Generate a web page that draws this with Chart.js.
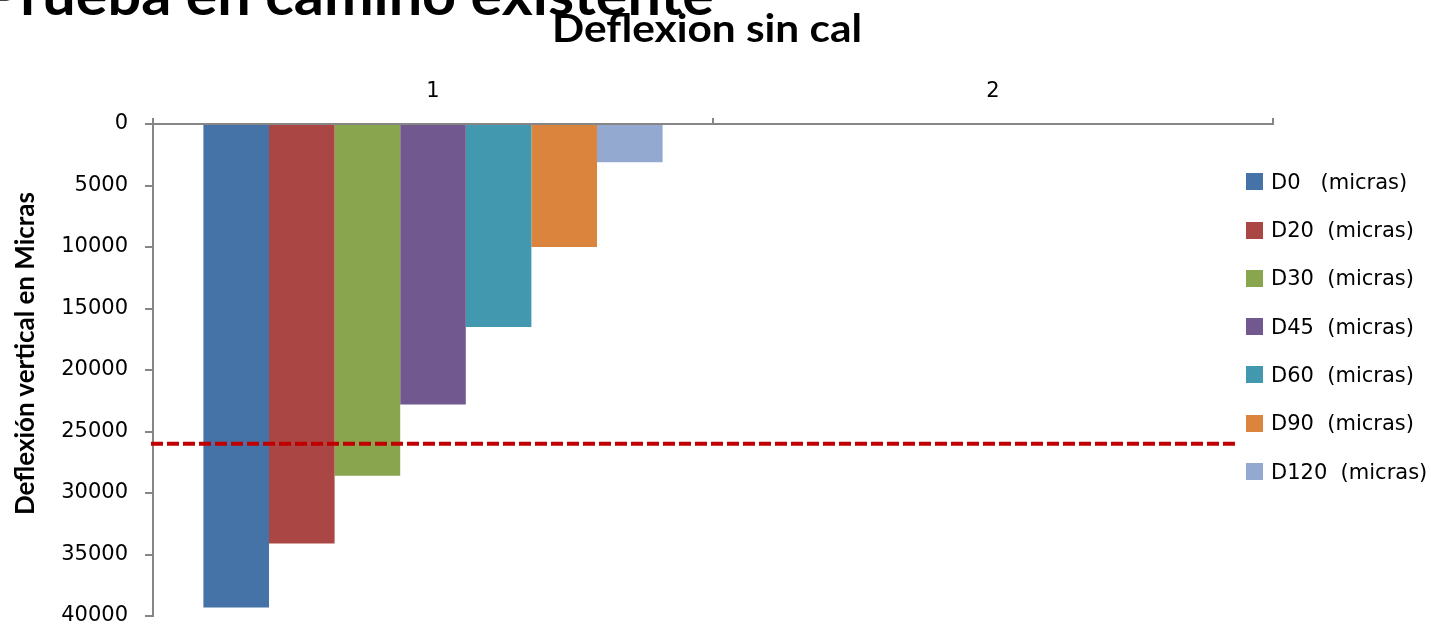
<!DOCTYPE html>
<html>
<head>
<meta charset="utf-8">
<script src="https://cdn.jsdelivr.net/npm/chart.js@4/dist/chart.umd.min.js"></script>
<style>
  html, body { margin: 0; padding: 0; background: #fff; overflow: hidden; }
  #wrap { position: relative; width: 1431px; height: 630px; overflow: hidden; background: #fff; }
  #c { position: absolute; left: 0; top: 0; }
  .ttl { position: absolute; left: 0; top: 0; white-space: pre; font-family: Lato, "Open Sans", sans-serif;
         font-weight: 700; color: #000; line-height: 1; transform-origin: 0 0; }
  .bl { display: inline-block; width: 0; height: 0; vertical-align: baseline; }
  .lg { position: absolute; left: 1246px; height: 24px; display: flex; align-items: center;
        font-family: "DejaVu Sans", sans-serif; font-size: 21px; color: #000; white-space: pre; }
  .lg i { display: inline-block; width: 17px; height: 17px; margin-right: 8px; }
</style>
</head>
<body>
<div id="wrap">
  <canvas id="c" width="1431" height="630"></canvas>
  <div id="t1" class="ttl" style="font-size:56px">Prueba en camino existente<span class="bl"></span></div>
  <div id="t2" class="ttl" style="font-size:39px">Deflexion sin cal<span class="bl"></span></div>
  <div id="t3" class="ttl" style="font-size:26px">Deflexión vertical en Micras<span class="bl"></span></div>
  <div id="legend"></div>
</div>
<script>
// ---- data ----
const categories = ['1', '2'];
const seriesNames = ['D0   (micras)', 'D20  (micras)', 'D30  (micras)', 'D45  (micras)', 'D60  (micras)', 'D90  (micras)', 'D120  (micras)'];
const D0   = [39300, null];
const D20  = [34100, null];
const D30  = [28600, null];
const D45  = [22800, null];
const D60  = [16500, null];
const D90  = [10000, null];
const D120 = [3100, null];
const seriesValues = [D0, D20, D30, D45, D60, D90, D120];
const yMin = 0, yMax = 40000, yStep = 5000;
const threshold = 26000;

// ---- styles ----
const seriesColors = ['#4572A7', '#AA4643', '#89A54E', '#71588F', '#4198AF', '#DB843D', '#93A9CF'];
const axisColor = '#868686';
const tickFont = { family: 'DejaVu Sans', size: 21 };

const datasets = seriesNames.map((name, i) => ({
  label: name,
  data: seriesValues[i],
  backgroundColor: seriesColors[i],
  borderWidth: 0,
  categoryPercentage: 0.82,
  barPercentage: 1.0
}));

const thresholdLine = {
  id: 'thresholdLine',
  afterDatasetsDraw(chart) {
    const { ctx, chartArea: a, scales: { y } } = chart;
    const py = y.getPixelForValue(threshold);
    ctx.save();
    ctx.strokeStyle = '#C00000';
    ctx.lineWidth = 4;
    ctx.setLineDash([12, 4]);
    ctx.beginPath();
    ctx.moveTo(a.left - 2, py);
    ctx.lineTo(a.right - 35, py);
    ctx.stroke();
    ctx.restore();
  }
};

function noPad(s) { s.paddingTop = 0; s.paddingBottom = 0; s.paddingLeft = 0; s.paddingRight = 0; }

new Chart(document.getElementById('c'), {
  type: 'bar',
  data: { labels: categories, datasets },
  options: {
    responsive: false,
    animation: false,
    devicePixelRatio: 1,
    layout: { padding: { left: 0, top: 0, right: 158, bottom: 14 } },
    plugins: { legend: { display: false }, tooltip: { enabled: false }, title: { display: false } },
    scales: {
      x: {
        type: 'category',
        position: 'top',
        offset: true,
        z: 1,
        grid: { display: true, offset: true, drawOnChartArea: false, drawTicks: true, tickLength: 6, color: axisColor, lineWidth: 2 },
        border: { display: true, color: axisColor, width: 2 },
        ticks: { font: tickFont, color: '#000', padding: 14, maxRotation: 0 },
        afterFit: s => { s.height = 124; noPad(s); }
      },
      y: {
        reverse: true,
        min: yMin,
        max: yMax,
        z: 1,
        grid: { display: true, drawOnChartArea: false, drawTicks: true, tickLength: 8, color: axisColor, lineWidth: 2 },
        border: { display: true, color: axisColor, width: 2 },
        ticks: { stepSize: yStep, font: tickFont, color: '#000', padding: 17, callback: v => String(v) },
        afterFit: s => { s.width = 153; noPad(s); }
      }
    }
  },
  plugins: [thresholdLine]
});

// ---- legend ----
const lg = document.getElementById('legend');
seriesNames.forEach((name, i) => {
  const row = document.createElement('div');
  row.className = 'lg';
  row.style.top = (181.7 + 48.3 * i - 12) + 'px';
  const sw = document.createElement('i');
  sw.style.background = seriesColors[i];
  row.appendChild(sw);
  row.appendChild(document.createTextNode(name));
  lg.appendChild(row);
});

// ---- titles ----
function measure(el) {
  el.style.transform = 'none';
  const r = el.getBoundingClientRect();
  const m = el.querySelector('.bl').getBoundingClientRect();
  return { w: r.width, base: m.bottom - r.top };
}
function placeH(el, left, right, baseline) {
  const { w, base } = measure(el);
  const s = (right - left) / w;
  el.style.transform = `translate(${left}px, ${baseline - base}px) scaleX(${s})`;
}
function placeV(el, baselineX, bottom, top) {
  const { w, base } = measure(el);
  const s = (bottom - top) / w;
  el.style.transform = `translate(${baselineX - base}px, ${bottom}px) rotate(-90deg) scaleX(${s})`;
}
function layoutTitles() {
  placeH(document.getElementById('t1'), -16, 714, 15);
  placeH(document.getElementById('t2'), 552, 862, 42);
  placeV(document.getElementById('t3'), 34, 515, 192);
}
layoutTitles();
if (document.fonts && document.fonts.ready) document.fonts.ready.then(layoutTitles);
</script>
</body>
</html>
